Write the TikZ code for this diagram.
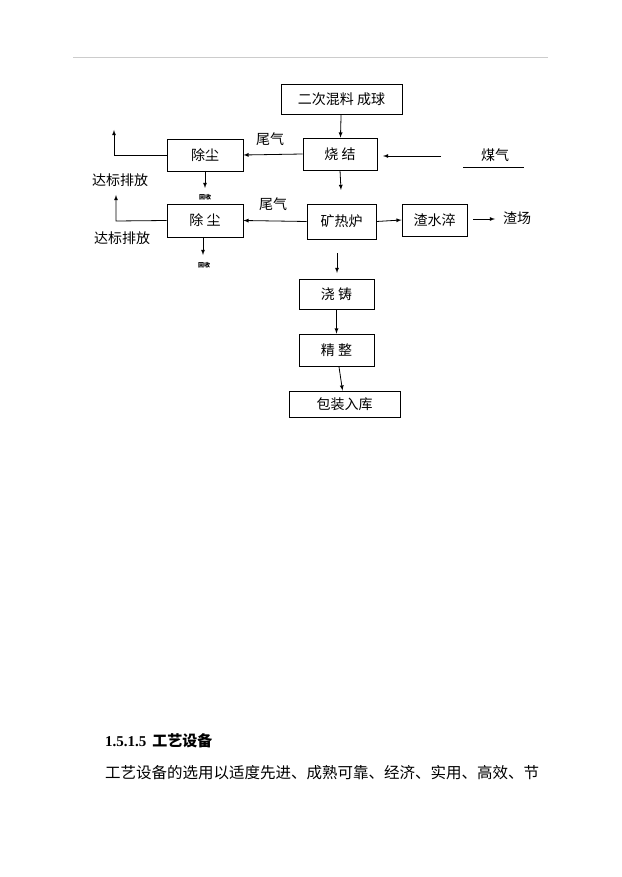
\documentclass[tikz,border=0pt]{standalone}
\usepackage{fontspec}
\setmainfont{Noto Sans CJK SC}
\newfontfamily\hd{Liberation Serif}
\begin{document}
\begin{tikzpicture}[x=1pt,y=-1pt,
  bx/.style={draw,thick,inner sep=0pt},
  ar/.style={thick,-latex},
  ln/.style={thick},
  t/.style={font=\fontsize{14}{16}\selectfont,inner sep=0pt},
  sm/.style={font=\fontsize{6}{7}\selectfont\bfseries,inner sep=0pt}]
\useasboundingbox (0,0) rectangle (621,877);
\draw[gray!40] (73,57) -- (548,57);
\node[bx,minimum width=121pt,minimum height=30pt,t] (mix) at (341.5,99) {二次混料 成球};
\node[bx,minimum width=74pt,minimum height=32pt,t] (sin) at (340,154) {烧 结};
\node[bx,minimum width=76pt,minimum height=32pt,t] (d1) at (205,155) {除尘};
\node[bx,minimum width=76pt,minimum height=33pt,t] (d2) at (205,220.5) {除 尘};
\node[bx,minimum width=69pt,minimum height=35pt,t] (fur) at (341.5,221.5) {矿热炉};
\node[bx,minimum width=65pt,minimum height=32pt,t] (wq) at (434.5,220) {渣水淬};
\node[t] (zc) at (517,218) {渣场};
\node[t] (mq) at (495,155) {煤气};
\coordinate (mqa) at (441,156);
\draw[ln] (463,167) -- (524,167);
\node[bx,minimum width=75pt,minimum height=30pt,t] (jz) at (336.5,294) {浇 铸};
\node[bx,minimum width=75pt,minimum height=32pt,t] (jzh) at (336.5,350) {精 整};
\node[bx,minimum width=111pt,minimum height=26pt,t] (bz) at (344.5,404) {包装入库};
\node[t] (w1) at (270,139) {尾气};
\node[t] (w2) at (273,204) {尾气};
\node[t] (p1) at (120,180) {达标排放};
\node[t] (p2) at (122,238) {达标排放};
\node[sm] (h1) at (205,197) {回收};
\node[sm] (h2) at (204,265) {回收};
\coordinate (s1) at (341,190);
\coordinate (f1) at (337,253);
\coordinate (f2) at (337,273);
\draw[ar] (mix) -- (sin);
\draw[ar] (sin.south) -- (s1);
\draw[ar] (mqa) -- (383,156);
\draw[ar] (sin.west) -- (d1.east);
\draw[ar] (fur.west) -- (d2.east);
\draw[ar] (fur.east) -- (wq.west);
\draw[ar] (wq.east)++(6,-1) -- (495,219);
\draw[ar] (d1.west) -- (114,155) -- (114,130);
\draw[ar] (d2.west) -- (116,221) -- (116,195);
\draw[ar] (205,171) -- (205,188);
\draw[ar] (203,237) -- (203,255);
\draw[ar] (f1) -- (f2);
\draw[ar] (jz) -- (jzh);
\draw[ar] (jzh) -- (bz);
\node[anchor=west,inner sep=0pt,font=\fontsize{15}{17}\selectfont\bfseries] (h) at (105,741) {{\hd 1.5.1.5}\hspace{6pt}工艺设备};
\node[anchor=west,inner sep=0pt,font=\fontsize{15.5}{17}\selectfont] (p) at (105,773) {工艺设备的选用以适度先进、成熟可靠、经济、实用、高效、节};
\end{tikzpicture}
\end{document}
